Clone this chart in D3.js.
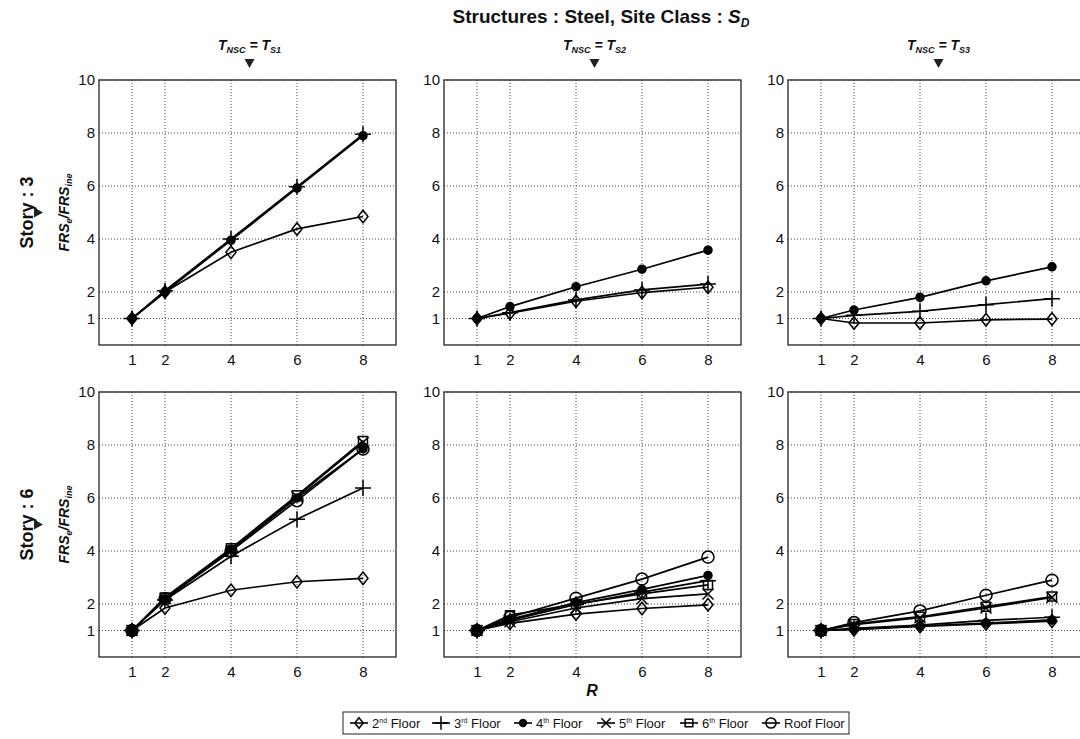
<!DOCTYPE html>
<html>
<head>
<meta charset="utf-8">
<script src="https://cdn.jsdelivr.net/npm/d3@7"></script>
<style>
  html, body { margin: 0; padding: 0; background: #fff; }
  svg { display: block; }
  text { font-family: "Liberation Sans", Arial, sans-serif; fill: #111; }
</style>
</head>
<body>
<svg id="chart" width="1080" height="739"></svg>
<script>
// Response-modification factor R on the x axis
const rValues = [1, 2, 4, 6, 8];
const xTicks = [1, 2, 4, 6, 8];
const yTicks = [1, 2, 4, 6, 8, 10];

const floorNames = ["2nd Floor", "3rd Floor", "4th Floor", "5th Floor", "6th Floor", "Roof Floor"];
const floorOrd = [["2", "nd"], ["3", "rd"], ["4", "th"], ["5", "th"], ["6", "th"], ["Roof", ""]];
const floorMarkers = ["diamond", "plus", "dot", "cross", "square", "circle"];

const columnLabels = ["S1", "S2", "S3"];
const rowLabels = ["3", "6"];

// FRS_e / FRS_ine ratios, Story 3 building (2nd, 3rd, 4th floor)
const s3_ts1_2nd = [1, 2.0, 3.5, 4.38, 4.85];
const s3_ts1_3rd = [1, 2.05, 4.0, 5.97, 7.95];
const s3_ts1_4th = [1, 2.0, 3.95, 5.92, 7.9];

const s3_ts2_2nd = [1, 1.2, 1.65, 1.98, 2.18];
const s3_ts2_3rd = [1, 1.22, 1.7, 2.08, 2.3];
const s3_ts2_4th = [1, 1.45, 2.2, 2.86, 3.58];

const s3_ts3_2nd = [1, 0.83, 0.83, 0.95, 0.98];
const s3_ts3_3rd = [1, 1.12, 1.27, 1.52, 1.75];
const s3_ts3_4th = [1, 1.32, 1.8, 2.42, 2.95];

// Story 6 building (2nd .. 6th floor, roof)
const s6_ts1_2nd = [1, 1.85, 2.52, 2.84, 2.97];
const s6_ts1_3rd = [1, 2.15, 3.8, 5.2, 6.38];
const s6_ts1_4th = [1, 2.2, 4.05, 6.0, 7.85];
const s6_ts1_5th = [1, 2.2, 4.0, 6.05, 8.1];
const s6_ts1_6th = [1, 2.25, 4.1, 6.1, 8.15];
const s6_ts1_roof = [1, 2.2, 4.0, 5.9, 7.85];

const s6_ts2_2nd = [1, 1.27, 1.62, 1.83, 1.97];
const s6_ts2_3rd = [1, 1.38, 1.98, 2.45, 2.88];
const s6_ts2_4th = [1, 1.42, 2.05, 2.55, 3.08];
const s6_ts2_5th = [1, 1.33, 1.85, 2.2, 2.38];
const s6_ts2_6th = [1, 1.58, 2.0, 2.38, 2.72];
const s6_ts2_roof = [1, 1.5, 2.22, 2.94, 3.77];

const s6_ts3_2nd = [1, 1.03, 1.15, 1.25, 1.35];
const s6_ts3_3rd = [1, 1.08, 1.2, 1.38, 1.5];
const s6_ts3_4th = [1, 1.05, 1.17, 1.28, 1.4];
const s6_ts3_5th = [1, 1.22, 1.48, 1.85, 2.25];
const s6_ts3_6th = [1, 1.25, 1.52, 1.9, 2.28];
const s6_ts3_roof = [1, 1.3, 1.74, 2.33, 2.9];

const panels = [
  [[s3_ts1_2nd, s3_ts1_3rd, s3_ts1_4th],
   [s3_ts2_2nd, s3_ts2_3rd, s3_ts2_4th],
   [s3_ts3_2nd, s3_ts3_3rd, s3_ts3_4th]],
  [[s6_ts1_2nd, s6_ts1_3rd, s6_ts1_4th, s6_ts1_5th, s6_ts1_6th, s6_ts1_roof],
   [s6_ts2_2nd, s6_ts2_3rd, s6_ts2_4th, s6_ts2_5th, s6_ts2_6th, s6_ts2_roof],
   [s6_ts3_2nd, s6_ts3_3rd, s6_ts3_4th, s6_ts3_5th, s6_ts3_6th, s6_ts3_roof]]
];

const svg = d3.select("#chart");
const FONT = "'Liberation Sans', Arial, sans-serif";
const NARROW = "'Liberation Sans Narrow', 'Liberation Sans', Arial, sans-serif";

const panelW = 297, panelH = 265;
const colX = [99, 444, 788];
const rowY = [80, 392];

function markerPath(type, s) {
  switch (type) {
    case "diamond": return `M0,${-s * 1.25}L${s},0L0,${s * 1.25}L${-s},0Z`;
    case "plus": return `M${-s},0H${s}M0,${-s}V${s}`;
    case "cross": return `M${-s},${-s}L${s},${s}M${-s},${s}L${s},${-s}`;
    case "square": return `M${-s},${-s}H${s}V${s}H${-s}Z`;
    case "circle": return d3.symbol(d3.symbolCircle, Math.PI * s * s)();
    case "dot": return d3.symbol(d3.symbolCircle, Math.PI * s * s)();
  }
}
const markerSize = { diamond: 5, plus: 8, cross: 5.5, square: 4.5, circle: 6, dot: 4 };

function drawMarker(g, type, x, y, scale = 1) {
  const filled = type === "dot";
  const open = type === "diamond" || type === "square" || type === "circle";
  g.append("path")
    .attr("transform", `translate(${x},${y})`)
    .attr("d", markerPath(type, markerSize[type] * scale))
    .attr("fill", filled ? "#000" : (open ? "#fff" : "none"))
    .attr("fill-opacity", open ? 0 : 1)
    .attr("stroke", "#000")
    .attr("stroke-width", 1.5);
}

panels.forEach((rowPanels, ri) => {
  rowPanels.forEach((series, ci) => {
    const x0 = colX[ci], y0 = rowY[ri];
    const x = d3.scaleLinear().domain([0, 9]).range([x0, x0 + panelW]);
    const y = d3.scaleLinear().domain([0, 10]).range([y0 + panelH, y0]);
    const g = svg.append("g");

    // dotted grid
    g.selectAll(".gx").data(xTicks).enter().append("line")
      .attr("x1", d => x(d)).attr("x2", d => x(d))
      .attr("y1", y0).attr("y2", y0 + panelH)
      .attr("stroke", "#444").attr("stroke-width", 1).attr("stroke-dasharray", "1,2");
    g.selectAll(".gy").data(yTicks).enter().append("line")
      .attr("x1", x0).attr("x2", x0 + panelW)
      .attr("y1", d => y(d)).attr("y2", d => y(d))
      .attr("stroke", "#444").attr("stroke-width", 1).attr("stroke-dasharray", "1,2");

    // axes
    const ax = g.append("g").attr("transform", `translate(0,${y0 + panelH})`)
      .call(d3.axisBottom(x).tickValues(xTicks).tickSize(0).tickPadding(9));
    const ay = g.append("g").attr("transform", `translate(${x0},0)`)
      .call(d3.axisLeft(y).tickValues(yTicks).tickSize(0).tickPadding(4));
    [ax, ay].forEach(a => {
      a.select(".domain").remove();
      a.selectAll("text").attr("font-size", 15).attr("font-family", FONT).attr("fill", "#111");
    });

    // frame
    g.append("rect").attr("x", x0).attr("y", y0).attr("width", panelW).attr("height", panelH)
      .attr("fill", "none").attr("stroke", "#222").attr("stroke-width", 1.3);

    // series lines and markers
    const line = d3.line().x((d, i) => x(rValues[i])).y(d => y(d));
    series.forEach((vals, si) => {
      g.append("path").attr("d", line(vals))
        .attr("fill", "none").attr("stroke", "#000").attr("stroke-width", 1.7);
      vals.forEach((v, i) => drawMarker(g, floorMarkers[si], x(rValues[i]), y(v)));
    });

    // column heading
    if (ri === 0) {
      const cx = x0 + panelW / 2 + 2;
      const t = svg.append("text").attr("x", cx).attr("y", 50)
        .attr("text-anchor", "middle").attr("font-family", NARROW)
        .attr("font-weight", "bold").attr("font-style", "italic").attr("font-size", 14);
      t.append("tspan").text("T");
      t.append("tspan").attr("font-size", 9).attr("dy", 3).text("NSC");
      t.append("tspan").attr("dy", -3).text(" = T");
      t.append("tspan").attr("font-size", 9).attr("dy", 3).text(columnLabels[ci]);
      svg.append("path").attr("d", `M${cx - 5},59L${cx + 5},59L${cx},68Z`).attr("fill", "#222");
    }

    // row heading
    if (ci === 0) {
      const cy = y0 + panelH / 2;
      svg.append("text").attr("transform", `translate(33,${cy}) rotate(-90)`)
        .attr("text-anchor", "middle").attr("font-family", FONT)
        .attr("font-weight", "bold").attr("font-size", 18).text("Story : " + rowLabels[ri]);
      svg.append("path").attr("d", `M34,${cy - 5}L34,${cy + 5}L43,${cy}Z`).attr("fill", "#222");
      const lab = svg.append("text").attr("transform", `translate(69,${cy}) rotate(-90)`)
        .attr("text-anchor", "middle").attr("font-family", FONT)
        .attr("font-weight", "bold").attr("font-style", "italic").attr("font-size", 14);
      lab.append("tspan").text("FRS");
      lab.append("tspan").attr("font-size", 9).attr("dy", 3).text("e");
      lab.append("tspan").attr("dy", -3).text("/FRS");
      lab.append("tspan").attr("font-size", 9).attr("dy", 3).text("ine");
    }
  });
});

// main title
const title = svg.append("text").attr("x", 601).attr("y", 23).attr("text-anchor", "middle")
  .attr("font-family", NARROW).attr("font-weight", "bold").attr("font-size", 19);
title.append("tspan").text("Structures : Steel, Site Class : ");
title.append("tspan").attr("font-style", "italic").text("S");
title.append("tspan").attr("font-style", "italic").attr("font-size", 12).attr("dy", 4).text("D");

// x axis label
svg.append("text").attr("x", 592).attr("y", 696).attr("text-anchor", "middle")
  .attr("font-family", FONT).attr("font-weight", "bold").attr("font-style", "italic")
  .attr("font-size", 16).text("R");

// legend
const lg = svg.append("g");
lg.append("rect").attr("x", 343).attr("y", 712).attr("width", 506).attr("height", 22)
  .attr("fill", "#fff").attr("stroke", "#222").attr("stroke-width", 1);
const itemX = [350, 432, 514, 597, 680, 762];
floorNames.forEach((name, i) => {
  const x0 = itemX[i], yc = 723;
  lg.append("line").attr("x1", x0).attr("x2", x0 + 18).attr("y1", yc).attr("y2", yc)
    .attr("stroke", "#000").attr("stroke-width", 1.6);
  drawMarker(lg, floorMarkers[i], x0 + 9, yc, 0.85);
  const t = lg.append("text").attr("x", x0 + 22).attr("y", yc + 5)
    .attr("font-family", FONT).attr("font-size", 13);
  t.append("tspan").text(floorOrd[i][0]);
  if (floorOrd[i][1]) t.append("tspan").attr("font-size", 7).attr("dy", -5).text(floorOrd[i][1]);
  t.append("tspan").attr("dy", floorOrd[i][1] ? 5 : 0).text(" Floor");
});
</script>
</body>
</html>
